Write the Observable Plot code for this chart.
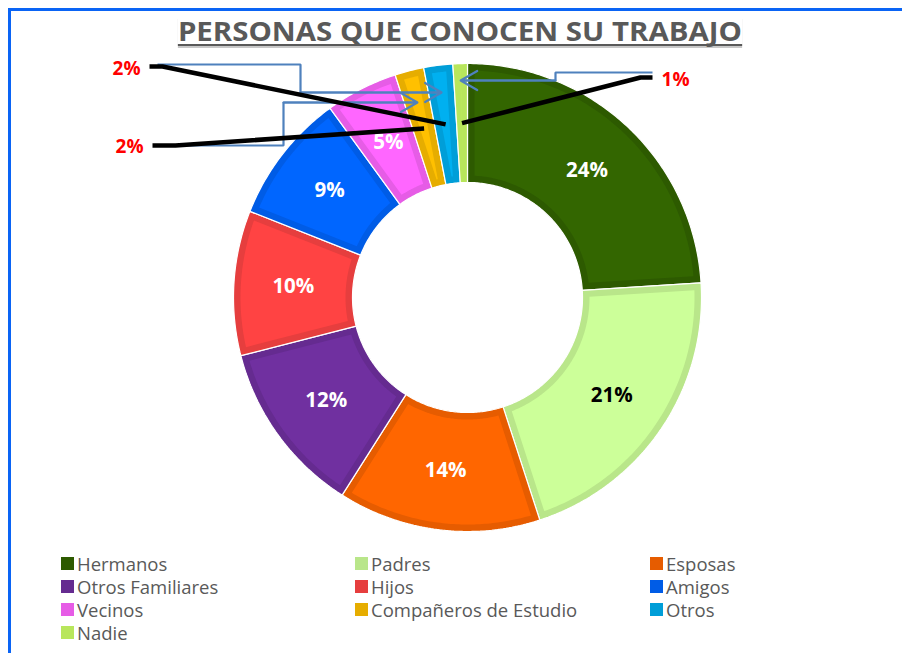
<!DOCTYPE html>
<html><head><meta charset="utf-8">
<script src="https://cdn.jsdelivr.net/npm/d3@7"></script>
<script src="https://cdn.jsdelivr.net/npm/@observablehq/plot@0.6"></script>
<style>
html,body{margin:0;padding:0;background:#fff;}
#wrap{position:relative;width:902px;height:653px;overflow:hidden;font-family:"Open Sans",sans-serif;}
#frame{position:absolute;left:8px;top:8px;width:1000px;height:1000px;border-left:3px solid #0A64F5;border-top:3px solid #0A64F5;box-sizing:border-box;}
#chart{position:absolute;left:0;top:0;}
#title{position:absolute;left:0;top:17px;width:920px;text-align:center;}
#title span{display:inline-block;font-weight:700;font-size:27px;line-height:27px;color:#595959;border-bottom:2px solid #595959;box-shadow:0 2px 0 #c8c8c8;transform-origin:50% 50%;white-space:nowrap;}
.lg{position:absolute;height:20px;display:flex;align-items:center;font-size:18.5px;color:#595959;white-space:nowrap;}
.lg i{display:inline-block;width:13px;height:13px;margin-right:3px;}
</style></head><body>
<div id="wrap"><div id="frame"></div><div id="chart"></div>
<div id="title"><span id="tt">PERSONAS QUE CONOCEN SU TRABAJO</span></div>
<div id="legend"></div></div>
<script>
// ---- data ----
const categories = ["Hermanos","Padres","Esposas","Otros Familiares","Hijos","Amigos","Vecinos","Compañeros de Estudio","Otros","Nadie"];
const values = [24,21,14,12,10,9,5,2,2,1];
// ---- styles ----
const fillColors   = ["#336600","#CCFF99","#FF6600","#7030A0","#FF4343","#0066FF","#FF66FF","#FFC000","#00B0F0","#C4EE66"];
const borderColors = ["#2D5A00","#B9E68A","#E65C00","#652B90","#E63E3E","#005CE6","#E65CE6","#E6AD00","#009ED8","#B8E65C"];
const labelColors  = ["#fff","#000","#fff","#fff","#fff","#fff","#fff","#fff","#fff","#fff"];
const insideLabel  = [true,true,true,true,true,true,true,false,false,false];

// ---- layout ----
const W = 902, H = 545, CX = 467, CY = 297, R = 234, RI = 115, BW = 7;
const total = d3.sum(values);
let acc = 0;
const slices = categories.map((name, i) => {
  const a0 = acc / total * 2 * Math.PI; acc += values[i];
  const a1 = acc / total * 2 * Math.PI;
  return {name, i, value: values[i], a0, a1, mid: (a0 + a1) / 2};
});
const pt = (a, r) => ({x: CX + r * Math.sin(a), y: CY - r * Math.cos(a)});
function ring(s, inset) {
  const ro = R - inset, ri = RI + inset;
  const span = r => { let b0 = s.a0 + inset / r, b1 = s.a1 - inset / r; if (b0 > b1) { const m = (b0 + b1) / 2; b0 = b1 = m; } return [b0, b1]; };
  const n = Math.max(6, Math.ceil((s.a1 - s.a0) * 80));
  const pts = [];
  let [b0, b1] = span(ro);
  for (let k = 0; k <= n; k++) pts.push(pt(b0 + (b1 - b0) * k / n, ro));
  [b0, b1] = span(ri);
  for (let k = n; k >= 0; k--) pts.push(pt(b0 + (b1 - b0) * k / n, ri));
  return pts;
}
const midR = (R + RI) / 2;
const inLabels = slices.filter(s => insideLabel[s.i]).map(s => ({...pt(s.mid, midR), text: s.value + "%", color: labelColors[s.i]}));

// callout annotations (label anchor, leader bends, connector bends)
const callouts = [
  {i: 8, label: {x: 126, y: 68}, black: [{x:149,y:66},{x:162,y:66}], blue: [{x:157,y:64},{x:300,y:64},{x:300,y:92}]},
  {i: 7, label: {x: 129, y: 146}, black: [{x:152,y:145},{x:175,y:145}], blue: [{x:160,y:145},{x:283,y:145},{x:283,y:102}]},
  {i: 9, label: {x: 675, y: 79}, black: [{x:652,y:77},{x:640,y:77}], blue: [{x:652,y:72},{x:555,y:72},{x:555,y:80}]}
];
const blackLines = [], blueLines = [], arrows = [], outLabels = [];
callouts.forEach((c, k) => {
  const s = slices[c.i];
  outLabels.push({...c.label, text: s.value + "%"});
  c.black.forEach(p => blackLines.push({...p, k}));
  blackLines.push({...pt(s.mid, midR), k});
  c.blue.forEach(p => blueLines.push({...p, k}));
  const last = c.blue[c.blue.length - 1];
  const t = (CY - last.y) / Math.cos(s.mid);
  const tip = pt(s.mid, t);
  blueLines.push({...tip, k});
  arrows.push({x1: last.x, y1: last.y, x2: tip.x, y2: tip.y});
});

const chart = Plot.plot({
  width: W, height: H,
  marginTop: 0, marginRight: 0, marginBottom: 0, marginLeft: 0,
  x: {domain: [0, W], range: [0, W], axis: null},
  y: {domain: [0, H], range: [0, H], axis: null},
  style: {background: "transparent", fontFamily: "'Open Sans', sans-serif"},
  marks: [
    ...slices.map(s => Plot.line(ring(s, 0), {x: "x", y: "y", curve: "linear-closed", fill: borderColors[s.i], stroke: "#ffffff", strokeWidth: 1.2, strokeLinejoin: "miter"})),
    ...slices.map(s => Plot.line(ring(s, BW), {x: "x", y: "y", curve: "linear-closed", fill: fillColors[s.i], stroke: "none"})),
    Plot.text(inLabels, {x: "x", y: "y", text: "text", fill: "color", fontSize: 20.5, fontWeight: "bold"}),
    Plot.line(blueLines, {x: "x", y: "y", z: "k", stroke: "#4F81BD", strokeWidth: 2.2, strokeLinejoin: "miter", strokeLinecap: "butt"}),
    Plot.arrow(arrows, {x1: "x1", y1: "y1", x2: "x2", y2: "y2", stroke: "#4F81BD", strokeWidth: 2.2, headLength: 13, headAngle: 60}),
    Plot.line(blackLines, {x: "x", y: "y", z: "k", stroke: "#000", strokeWidth: 4.5, strokeLinejoin: "miter", strokeLinecap: "butt"}),
    Plot.text(outLabels, {x: "x", y: "y", text: "text", fill: "#FF0000", fontSize: 19, fontWeight: "bold"})
  ]
});
document.getElementById("chart").appendChild(chart);

// legend
const lg = document.getElementById("legend");
const colX = [61, 355, 650];
categories.forEach((c, i) => {
  const d = document.createElement("div");
  d.className = "lg";
  d.style.left = colX[i % 3] + "px";
  d.style.top = (553 + Math.floor(i / 3) * 23) + "px";
  d.innerHTML = `<i style="background:${borderColors[i]}"></i>${c}`;
  lg.appendChild(d);
});

function fitTitle() {
  const tt = document.getElementById("tt");
  tt.style.transform = "none";
  const w = tt.getBoundingClientRect().width;
  tt.style.transform = `scaleX(${564 / w})`;
}
fitTitle();
if (document.fonts && document.fonts.ready) document.fonts.ready.then(fitTitle);
</script>
</body></html>
